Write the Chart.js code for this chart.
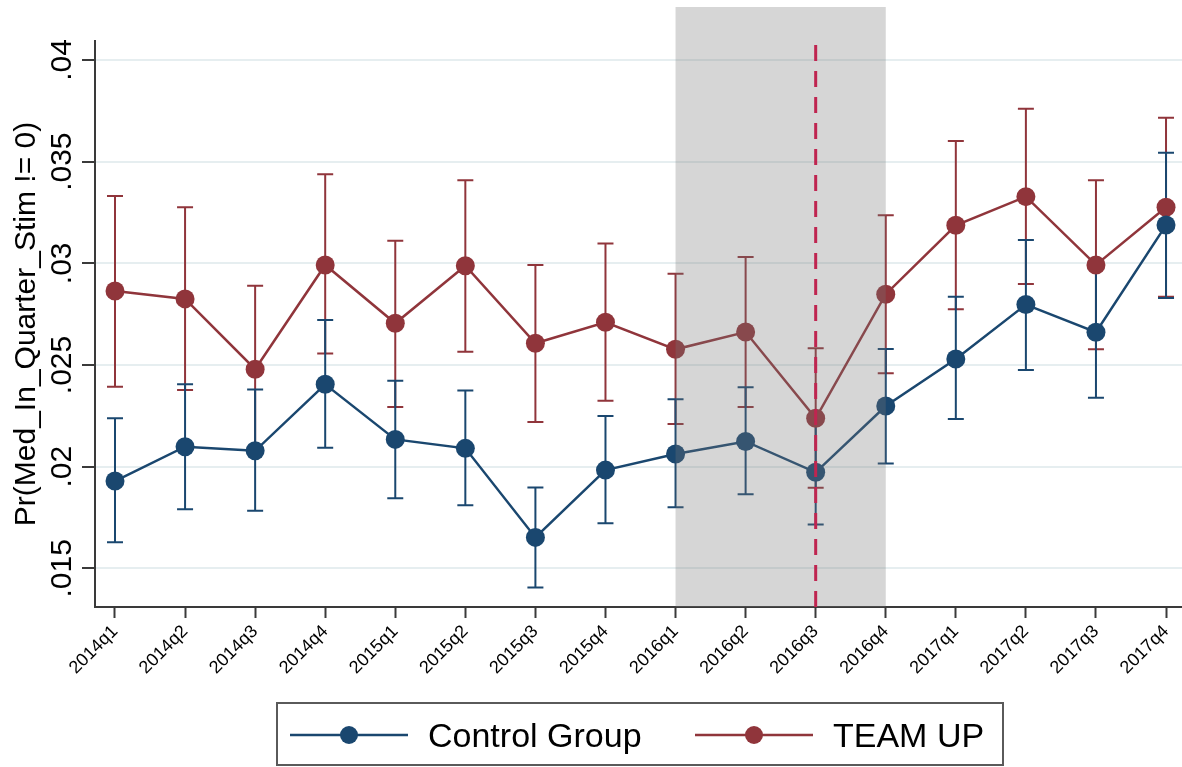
<!DOCTYPE html>
<html>
<head>
<meta charset="utf-8">
<script src="https://cdn.jsdelivr.net/npm/chart.js@4/dist/chart.umd.min.js"></script>
<style>
  html, body { margin: 0; padding: 0; background: #ffffff; }
  #wrap { width: 1182px; height: 767px; }
</style>
</head>
<body>
<div id="wrap"><canvas id="chart" width="1182" height="767"></canvas></div>
<script>
// Quarters on the horizontal axis
const quarters = ['2014q1','2014q2','2014q3','2014q4','2015q1','2015q2','2015q3','2015q4',
                  '2016q1','2016q2','2016q3','2016q4','2017q1','2017q2','2017q3','2017q4'];

// Control Group: point estimate and 95% interval
const controlMean = [0.01929,0.02098,0.02078,0.02405,0.02134,0.02090,0.01652,0.01983,
                     0.02062,0.02124,0.01972,0.02298,0.02529,0.02797,0.02661,0.03188];
const controlLow  = [0.01628,0.01790,0.01783,0.02093,0.01844,0.01810,0.01406,0.01721,
                     0.01800,0.01864,0.01716,0.02016,0.02234,0.02475,0.02339,0.02830];
const controlHigh = [0.02238,0.02405,0.02380,0.02721,0.02423,0.02375,0.01898,0.02249,
                     0.02331,0.02390,0.02228,0.02579,0.02836,0.03115,0.02982,0.03544];

// TEAM UP: point estimate and 95% interval
const teamMean = [0.02864,0.02825,0.02479,0.02992,0.02705,0.02988,0.02607,0.02710,
                  0.02577,0.02662,0.02238,0.02848,0.03187,0.03328,0.02992,0.03276];
const teamLow  = [0.02393,0.02377,0.02067,0.02557,0.02293,0.02565,0.02220,0.02324,
                  0.02210,0.02293,0.01896,0.02459,0.02774,0.02898,0.02577,0.02836];
const teamHigh = [0.03331,0.03276,0.02890,0.03438,0.03111,0.03408,0.02992,0.03097,
                  0.02949,0.03031,0.02582,0.03236,0.03602,0.03760,0.03408,0.03716];

// Vertical axis ticks
const yTickValues = [0.015, 0.02, 0.025, 0.03, 0.035, 0.04];
const yTickLabels = ['.015', '.02', '.025', '.03', '.035', '.04'];
const yTitle = 'Pr(Med_In_Quarter_Stim != 0)';

// Shaded window (first..last quarter index) and the marked quarter
const shadeFrom = 8;
const shadeTo = 11;
const markedQuarter = 10;

const seriesNames = ['Control Group', 'TEAM UP'];
const seriesColors = ['#1a476f', '#90353b'];

const FONT = '"Liberation Sans", Arial, Helvetica, sans-serif';

function toPoints(arr) { return arr.map((v, i) => ({ x: i, y: v })); }

const intervals = [
  { low: controlLow, high: controlHigh },
  { low: teamLow, high: teamHigh }
];

// Confidence interval caps, drawn beneath the connected markers
const errorBars = {
  id: 'errorBars',
  beforeDatasetsDraw(chart) {
    const { ctx, scales: { x, y } } = chart;
    ctx.save();
    ctx.beginPath();
    ctx.rect(chart.chartArea.left, 0, chart.chartArea.width, chart.chartArea.bottom);
    ctx.clip();
    [1, 0].forEach(d => {
      const { low, high } = intervals[d];
      ctx.strokeStyle = seriesColors[d];
      ctx.lineWidth = 2;
      low.forEach((lo, i) => {
        const px = x.getPixelForValue(i);
        const yl = y.getPixelForValue(lo);
        const yh = y.getPixelForValue(high[i]);
        ctx.beginPath();
        ctx.moveTo(px, yl); ctx.lineTo(px, yh);
        ctx.moveTo(px - 8, yl); ctx.lineTo(px + 8, yl);
        ctx.moveTo(px - 8, yh); ctx.lineTo(px + 8, yh);
        ctx.stroke();
      });
    });
    ctx.restore();
  }
};

// Gray window over the plot and the dashed marker line
const windowShade = {
  id: 'windowShade',
  afterDatasetsDraw(chart) {
    const { ctx, chartArea, scales: { x } } = chart;
    const x0 = x.getPixelForValue(shadeFrom);
    const x1 = x.getPixelForValue(shadeTo);
    ctx.save();
    ctx.fillStyle = 'rgba(119,119,119,0.30)';
    ctx.fillRect(x0, 7, x1 - x0, chartArea.bottom - 7);
    const xm = x.getPixelForValue(markedQuarter);
    ctx.strokeStyle = '#bf2550';
    ctx.lineWidth = 3;
    ctx.setLineDash([16, 10]);
    ctx.beginPath();
    ctx.moveTo(xm, 45);
    ctx.lineTo(xm, chartArea.bottom);
    ctx.stroke();
    ctx.restore();
  }
};

// Rotated y tick labels, axis title and boxed legend
const decorations = {
  id: 'decorations',
  afterDraw(chart) {
    const { ctx, chartArea, scales: { y } } = chart;
    ctx.save();
    ctx.fillStyle = '#000000';
    ctx.font = '30px ' + FONT;
    ctx.textAlign = 'center';
    ctx.textBaseline = 'alphabetic';
    yTickValues.forEach((v, i) => {
      const py = y.getPixelForValue(v);
      ctx.save();
      ctx.translate(71, py);
      ctx.rotate(-Math.PI / 2);
      ctx.fillText(yTickLabels[i], 0, 0);
      ctx.restore();
    });
    ctx.save();
    ctx.translate(35, (chartArea.top + chartArea.bottom) / 2);
    ctx.rotate(-Math.PI / 2);
    ctx.fillText(yTitle, 0, 0);
    ctx.restore();

    // legend box
    ctx.strokeStyle = '#5a5a5a';
    ctx.lineWidth = 2;
    ctx.strokeRect(277, 703, 726, 62);
    const items = [
      { x0: 290, x1: 408, tx: 428 },
      { x0: 695, x1: 813, tx: 833 }
    ];
    items.forEach((it, d) => {
      const cy = 735;
      ctx.strokeStyle = seriesColors[d];
      ctx.lineWidth = 2.5;
      ctx.beginPath();
      ctx.moveTo(it.x0, cy); ctx.lineTo(it.x1, cy);
      ctx.stroke();
      ctx.fillStyle = seriesColors[d];
      ctx.beginPath();
      ctx.arc((it.x0 + it.x1) / 2, cy, 9, 0, Math.PI * 2);
      ctx.fill();
      ctx.fillStyle = '#000000';
      ctx.font = '34px ' + FONT;
      ctx.textAlign = 'left';
      ctx.fillText(chart.data.datasets[d].label, it.tx, cy + 12);
    });
    ctx.restore();
  }
};

const bgFill = {
  id: 'bgFill',
  beforeDraw(chart) {
    const { ctx } = chart;
    ctx.save();
    ctx.fillStyle = '#ffffff';
    ctx.fillRect(0, 0, chart.width, chart.height);
    ctx.restore();
  }
};

const datasets = [
  { label: seriesNames[0], data: toPoints(controlMean) },
  { label: seriesNames[1], data: toPoints(teamMean) }
].map((ds, d) => Object.assign(ds, {
  borderColor: seriesColors[d],
  backgroundColor: seriesColors[d],
  pointBackgroundColor: seriesColors[d],
  pointBorderColor: seriesColors[d],
  pointRadius: 9.5,
  pointBorderWidth: 0,
  borderWidth: 2.5,
  tension: 0,
  fill: false
}));

new Chart(document.getElementById('chart'), {
  type: 'line',
  data: { datasets },
  plugins: [bgFill, errorBars, windowShade, decorations],
  options: {
    responsive: false,
    animation: false,
    devicePixelRatio: 1,
    layout: { autoPadding: false, padding: { top: 41, left: 0, right: 0, bottom: 0 } },
    plugins: { legend: { display: false }, tooltip: { enabled: false } },
    scales: {
      x: {
        type: 'linear',
        min: -0.2854,
        max: 15.228,
        afterBuildTicks(scale) { scale.ticks = quarters.map((_, i) => ({ value: i })); },
        afterFit(scale) {
          scale.height = 160;
          scale.paddingLeft = 0;
          scale.paddingRight = 0;
        },
        grid: { drawOnChartArea: false, drawTicks: true, tickLength: 11, tickWidth: 2, tickColor: '#3a3a3a' },
        border: { display: true, color: '#3a3a3a', width: 2 },
        ticks: {
          autoSkip: false,
          includeBounds: false,
          minRotation: 45,
          maxRotation: 45,
          padding: 3,
          color: '#000000',
          font: { family: FONT, size: 18 },
          callback: (v) => quarters[v]
        }
      },
      y: {
        type: 'linear',
        min: 0.013097,
        max: 0.040934,
        afterBuildTicks(scale) { scale.ticks = yTickValues.map(v => ({ value: v })); },
        afterFit(scale) {
          scale.width = 95;
          scale.paddingTop = 0;
          scale.paddingBottom = 0;
        },
        grid: { color: '#e6eef0', lineWidth: 2, drawTicks: true, tickLength: 13, tickWidth: 2, tickColor: '#3a3a3a' },
        border: { display: true, color: '#3a3a3a', width: 2 },
        ticks: { display: false }
      }
    }
  }
});
</script>
</body>
</html>
